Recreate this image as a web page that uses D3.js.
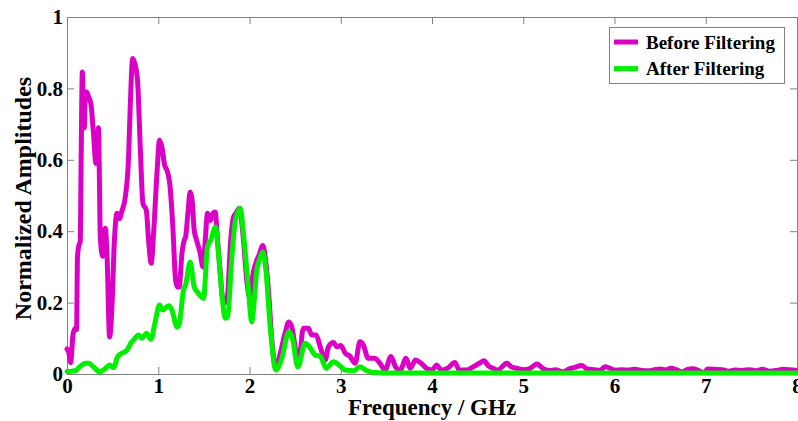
<!DOCTYPE html>
<html>
<head>
<meta charset="utf-8">
<script src="https://cdn.jsdelivr.net/npm/d3@7"></script>
<style>
  body { margin: 0; background: #fff; }
  svg text { font-family: "Liberation Serif", "Times New Roman", serif; font-weight: bold; fill: #000; }
  .axis path, .axis line { stroke: #808080; }
</style>
</head>
<body>
<div id="chart"></div>
<script>
// Frequency (GHz) / normalized amplitude
const freqBefore = [0.0, 0.02, 0.04, 0.066, 0.09, 0.105, 0.115, 0.13, 0.145, 0.155, 0.168, 0.18, 0.19, 0.2, 0.215, 0.237, 0.263, 0.29, 0.317, 0.33, 0.346, 0.355, 0.365, 0.39, 0.41, 0.42, 0.438, 0.467, 0.493, 0.518, 0.548, 0.577, 0.6, 0.639, 0.675, 0.693, 0.72, 0.748, 0.773, 0.803, 0.832, 0.869, 0.894, 0.923, 0.949, 0.986, 1.014, 1.04, 1.07, 1.095, 1.13, 1.16, 1.19, 1.21, 1.23, 1.26, 1.285, 1.3, 1.325, 1.35, 1.37, 1.394, 1.42, 1.46, 1.49, 1.515, 1.54, 1.57, 1.6, 1.624, 1.65, 1.68, 1.708, 1.737, 1.76, 1.789, 1.825, 1.85, 1.89, 1.934, 1.97, 2.0, 2.04, 2.08, 2.1, 2.147, 2.18, 2.21, 2.245, 2.29, 2.33, 2.39, 2.43, 2.464, 2.5, 2.537, 2.59, 2.646, 2.68, 2.73, 2.775, 2.83, 2.865, 2.92, 2.96, 3.0, 3.05, 3.1, 3.158, 3.21, 3.25, 3.3, 3.37, 3.43, 3.486, 3.55, 3.6, 3.65, 3.716, 3.76, 3.82, 3.88, 3.94, 4.0, 4.05, 4.1, 4.17, 4.25, 4.3, 4.38, 4.45, 4.52, 4.57, 4.62, 4.67, 4.72, 4.82, 4.87, 4.93, 5.0, 5.07, 5.15, 5.22, 5.3, 5.35, 5.44, 5.5, 5.56, 5.64, 5.7, 5.78, 5.84, 5.9, 5.96, 6.0, 6.08, 6.15, 6.22, 6.3, 6.38, 6.45, 6.5, 6.56, 6.62, 6.68, 6.74, 6.8, 6.86, 6.92, 6.98, 7.02, 7.1, 7.18, 7.25, 7.32, 7.4, 7.48, 7.55, 7.62, 7.7, 7.78, 7.85, 7.92, 8.0];
const ampBefore = [0.07, 0.06, 0.032, 0.11, 0.128, 0.125, 0.33, 0.36, 0.37, 0.6, 0.846, 0.75, 0.69, 0.78, 0.79, 0.776, 0.755, 0.674, 0.59, 0.63, 0.69, 0.55, 0.384, 0.33, 0.4, 0.408, 0.338, 0.104, 0.19, 0.366, 0.45, 0.435, 0.455, 0.496, 0.608, 0.748, 0.884, 0.865, 0.823, 0.636, 0.478, 0.459, 0.375, 0.31, 0.394, 0.562, 0.655, 0.636, 0.585, 0.571, 0.524, 0.412, 0.263, 0.244, 0.244, 0.338, 0.375, 0.384, 0.45, 0.51, 0.49, 0.403, 0.375, 0.338, 0.3, 0.375, 0.45, 0.43, 0.45, 0.454, 0.375, 0.282, 0.207, 0.2, 0.22, 0.356, 0.44, 0.45, 0.464, 0.375, 0.263, 0.216, 0.282, 0.319, 0.33, 0.36, 0.31, 0.226, 0.095, 0.016, 0.05, 0.114, 0.146, 0.132, 0.076, 0.03, 0.128, 0.128, 0.11, 0.109, 0.076, 0.039, 0.076, 0.088, 0.076, 0.08, 0.058, 0.05, 0.03, 0.09, 0.08, 0.044, 0.044, 0.03, 0.011, 0.049, 0.02, 0.01, 0.044, 0.016, 0.039, 0.03, 0.016, 0.011, 0.025, 0.011, 0.016, 0.032, 0.011, 0.011, 0.02, 0.03, 0.037, 0.022, 0.016, 0.011, 0.03, 0.02, 0.016, 0.012, 0.015, 0.028, 0.015, 0.01, 0.012, 0.006, 0.014, 0.018, 0.024, 0.014, 0.012, 0.01, 0.02, 0.015, 0.01, 0.012, 0.011, 0.013, 0.01, 0.009, 0.013, 0.014, 0.012, 0.016, 0.012, 0.006, 0.013, 0.015, 0.01, 0.004, 0.014, 0.013, 0.012, 0.008, 0.011, 0.01, 0.012, 0.009, 0.013, 0.008, 0.01, 0.013, 0.012, 0.01];

const freqAfter = [0.0, 0.05, 0.1, 0.13, 0.164, 0.2, 0.237, 0.29, 0.33, 0.357, 0.39, 0.42, 0.445, 0.467, 0.51, 0.554, 0.6, 0.657, 0.704, 0.73, 0.785, 0.82, 0.87, 0.92, 0.967, 1.014, 1.05, 1.113, 1.15, 1.205, 1.23, 1.277, 1.3, 1.35, 1.394, 1.44, 1.496, 1.54, 1.575, 1.628, 1.66, 1.7, 1.734, 1.76, 1.807, 1.843, 1.898, 1.935, 1.98, 2.026, 2.05, 2.08, 2.11, 2.147, 2.18, 2.227, 2.29, 2.355, 2.43, 2.47, 2.53, 2.61, 2.66, 2.72, 2.775, 2.84, 2.92, 2.99, 3.05, 3.14, 3.21, 3.28, 3.34, 3.5, 4.0, 5.0, 6.0, 7.0, 8.0];
const ampAfter = [0.007, 0.008, 0.01, 0.018, 0.025, 0.03, 0.03, 0.02, 0.01, 0.005, 0.01, 0.015, 0.022, 0.025, 0.018, 0.048, 0.058, 0.067, 0.088, 0.095, 0.109, 0.1, 0.114, 0.097, 0.147, 0.193, 0.179, 0.191, 0.179, 0.132, 0.14, 0.235, 0.25, 0.314, 0.244, 0.226, 0.212, 0.356, 0.375, 0.412, 0.338, 0.216, 0.156, 0.16, 0.328, 0.426, 0.464, 0.39, 0.263, 0.146, 0.2, 0.29, 0.32, 0.342, 0.29, 0.132, 0.011, 0.044, 0.118, 0.1, 0.02, 0.086, 0.075, 0.053, 0.05, 0.016, 0.034, 0.023, 0.011, 0.009, 0.02, 0.01, 0.005, 0.003, 0.003, 0.003, 0.003, 0.003, 0.003];

const xTicks = [0, 1, 2, 3, 4, 5, 6, 7, 8];
const yTicks = [0, 0.2, 0.4, 0.6, 0.8, 1];
const seriesNames = ["Before Filtering", "After Filtering"];
const seriesColors = ["#dc00c6", "#00f000"];

const svgWidth = 798;
const svgHeight = 421;
const margin = { top: 17, right: 1, bottom: 47, left: 67 };
const width = svgWidth - margin.left - margin.right;
const height = svgHeight - margin.top - margin.bottom;

const svg = d3.select("#chart")
    .append("svg")
    .attr("width", svgWidth)
    .attr("height", svgHeight)
    .append("g")
    .attr("transform", `translate(${margin.left},${margin.top})`);

const xScale = d3.scaleLinear().domain([0, 8]).range([0, width]);
const yScale = d3.scaleLinear().domain([0, 1]).range([height, 0]);
const fmt = d3.format("~g");

// Box with inward ticks on all four sides
svg.append("g")
    .attr("class", "axis")
    .attr("transform", `translate(0,${height})`)
    .call(d3.axisBottom(xScale).tickValues(xTicks).tickFormat(fmt).tickSizeInner(-7).tickSizeOuter(0).tickPadding(4))
    .selectAll("text").style("font-size", "21px");

svg.append("g")
    .attr("class", "axis")
    .call(d3.axisLeft(yScale).tickValues(yTicks).tickFormat(fmt).tickSizeInner(-7).tickSizeOuter(0).tickPadding(4))
    .selectAll("text").style("font-size", "21px");

svg.append("g")
    .attr("class", "axis")
    .call(d3.axisTop(xScale).tickValues(xTicks).tickFormat("").tickSizeInner(-7).tickSizeOuter(0));

svg.append("g")
    .attr("class", "axis")
    .attr("transform", `translate(${width},0)`)
    .call(d3.axisRight(yScale).tickValues(yTicks).tickFormat("").tickSizeInner(-7).tickSizeOuter(0));

// Lines
const line = d3.line()
    .x(d => xScale(d[0]))
    .y(d => yScale(d[1]))
    .curve(d3.curveMonotoneX);

const series = [
    d3.zip(freqBefore, ampBefore),
    d3.zip(freqAfter, ampAfter)
];

svg.selectAll(".series")
    .data(series)
    .join("path")
    .attr("class", "series")
    .attr("d", line)
    .attr("fill", "none")
    .attr("stroke", (_d, i) => seriesColors[i])
    .attr("stroke-width", 5)
    .attr("stroke-linejoin", "round")
    .attr("stroke-linecap", "round");

// Legend
const legend = svg.append("g")
    .attr("transform", `translate(${width - 188},${10})`);

legend.append("rect")
    .attr("x", 0.5)
    .attr("y", 0.5)
    .attr("width", 175)
    .attr("height", 56)
    .attr("fill", "#fff")
    .attr("stroke", "#808080");

seriesNames.forEach((name, i) => {
    const y = 15 + i * 26.6;
    legend.append("line")
        .attr("x1", 5).attr("x2", 29)
        .attr("y1", y).attr("y2", y)
        .attr("stroke", seriesColors[i])
        .attr("stroke-width", 5);
    legend.append("text")
        .attr("x", 37)
        .attr("y", y)
        .attr("dy", "0.35em")
        .style("font-size", "19px")
        .text(name);
});

// X axis label
svg.append("text")
    .attr("x", width / 2)
    .attr("y", height + 41)
    .attr("text-anchor", "middle")
    .style("font-size", "23px")
    .text("Frequency / GHz");

// Y axis label
svg.append("text")
    .attr("transform", "rotate(-90)")
    .attr("x", -(height / 2) - 3)
    .attr("y", -margin.left + 31)
    .attr("text-anchor", "middle")
    .style("font-size", "24px")
    .text("Normalized Amplitudes");
</script>
</body>
</html>
